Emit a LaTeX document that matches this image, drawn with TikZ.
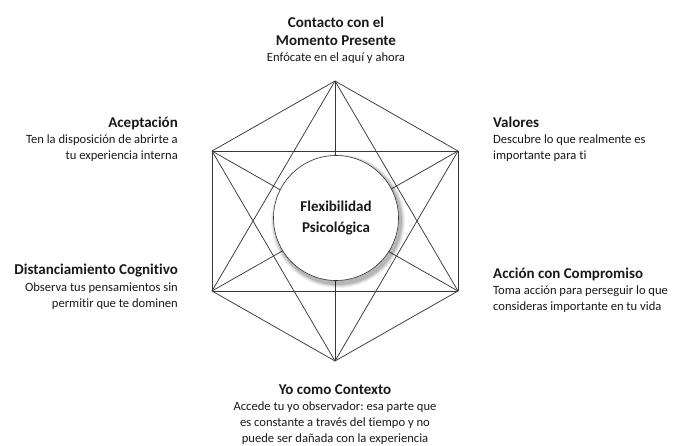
\documentclass[tikz,border=0pt]{standalone}
\usepackage{fontspec}
\setmainfont{Carlito}[Ligatures=NoCommon]
\frenchspacing
\begin{document}
\begin{tikzpicture}[x=1pt,y=-1pt,
  edge/.style={draw=black!78,line width=0.75pt},
  ttl/.style={font=\bfseries\fontsize{15}{18}\selectfont,inner sep=0pt,text=black!90},
  dsc/.style={font=\fontsize{12.6}{16}\selectfont,inner sep=0pt,text=black!90},
  hub/.style={circle,draw=black!80,line width=0.6pt,fill=white,minimum size=125pt,align=center,font=\bfseries\fontsize{15}{21}\selectfont,text=black!90}]
\useasboundingbox (0,0) rectangle (680,445);
% vertices
\coordinate (T) at (335,81);
\coordinate (UR) at (458,151);
\coordinate (LR) at (458,291);
\coordinate (B) at (335,361);
\coordinate (LL) at (212,291);
\coordinate (UL) at (212,151);
% complete graph
\foreach \a/\b in {T/UR,T/LR,T/B,T/LL,T/UL,UR/LR,UR/B,UR/LL,UR/UL,LR/B,LR/LL,LR/UL,B/LL,B/UL,LL/UL}
  \draw[edge] (\a) -- (\b);
% shadow
\foreach \r/\o in {67/0.05,66/0.07,65/0.09,64/0.11}
  \fill[black,opacity=\o] (338,221) circle (\r pt);
\node[hub] (hub) at (336,218) {Flexibilidad\\Psicológica};
% top
\node[ttl,anchor=base] (t1) at (336,27) {Contacto con el};
\node[ttl,anchor=base] (t2) at (336,45) {Momento Presente};
\node[dsc,anchor=base] (t3) at (336,61) {Enfócate en el aquí y ahora};
% Aceptación
\node[ttl,anchor=base east] (a1) at (178,127) {Aceptación};
\node[dsc,anchor=base east] (a2) at (178,143) {Ten la disposición de abrirte a};
\node[dsc,anchor=base east] (a3) at (178,159) {tu experiencia interna};
% Valores
\node[ttl,anchor=base west] (v1) at (493,127) {Valores};
\node[dsc,anchor=base west] (v2) at (493,143) {Descubre lo que realmente es};
\node[dsc,anchor=base west] (v3) at (493,159) {importante para ti};
% Distanciamiento
\node[ttl,anchor=base east] (d1) at (178,274) {Distanciamiento Cognitivo};
\node[dsc,anchor=base east] (d2) at (178,291) {Observa tus pensamientos sin};
\node[dsc,anchor=base east] (d3) at (178,307) {permitir que te dominen};
% Acción
\node[ttl,anchor=base west] (c1) at (493,278) {Acción con Compromiso};
\node[dsc,anchor=base west] (c2) at (493,294) {Toma acción para perseguir lo que};
\node[dsc,anchor=base west] (c3) at (493,310) {consideras importante en tu vida};
% Yo como contexto
\node[ttl,anchor=base] (y1) at (335,394) {Yo como Contexto};
\node[dsc,anchor=base] (y2) at (335,410) {Accede tu yo observador: esa parte que};
\node[dsc,anchor=base] (y3) at (335,426) {es constante a través del tiempo y no};
\node[dsc,anchor=base] (y4) at (335,442) {puede ser dañada con la experiencia};
\end{tikzpicture}
\end{document}
